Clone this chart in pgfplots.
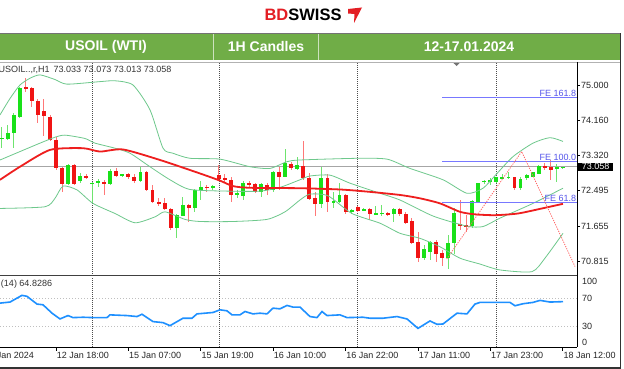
\documentclass[border=0pt]{standalone}
\usepackage{pgfplots}
\pgfplotsset{compat=1.18}
\usepackage{pgfplotstable}
\usepackage{fontspec}
\setmainfont{Liberation Sans}
\definecolor{hdrgreen}{RGB}{112,173,71}
\definecolor{bdred}{RGB}{227,30,36}
\definecolor{cgreen}{RGB}{25,225,25}
\definecolor{cred}{RGB}{240,20,20}
\definecolor{wgreen}{RGB}{110,228,110}
\definecolor{wred}{RGB}{255,120,120}
\definecolor{bbcol}{RGB}{110,200,140}
\definecolor{macol}{RGB}{238,30,30}
\definecolor{fecol}{RGB}{120,120,255}
\definecolor{fetext}{RGB}{85,85,235}
\definecolor{rsicol}{RGB}{30,144,255}
\newcommand\sm{\fontsize{9}{10.5}\selectfont}

\pgfplotstableread{
b O H L C
3 73.72 74.01 73.50 73.75
4 73.71 74.05 73.70 73.87
5 73.85 74.33 73.50 74.29
6 74.25 74.96 74.21 74.92
14 72.65 73.13 72.63 73.10
16 72.73 72.92 72.68 72.84
18 72.65 72.71 72.19 72.68
19 72.67 72.76 72.59 72.72
21 72.65 73.00 72.63 72.96
23 72.85 72.90 72.82 72.89
26 72.73 73.05 72.71 72.94
32 71.60 71.94 71.38 71.92
33 71.90 72.35 71.88 72.15
35 72.07 72.52 71.99 72.51
36 72.51 72.71 72.27 72.59
38 72.55 72.63 72.52 72.60
42 72.39 72.51 72.31 72.43
43 72.37 72.71 72.27 72.68
46 72.47 72.67 72.35 72.64
48 72.51 72.97 72.45 72.94
50 72.82 73.47 72.81 73.16
52 73.01 73.28 72.98 73.09
56 72.18 73.06 72.07 72.79
58 72.22 72.45 72.07 72.25
59 72.23 72.67 72.21 72.39
61 71.99 72.05 71.95 72.03
63 72.03 72.07 72.01 72.06
65 71.93 72.14 71.92 71.95
66 71.93 72.15 71.88 71.97
68 71.93 72.07 71.76 72.05
73 70.89 71.20 70.85 71.10
74 71.04 71.30 70.85 71.28
77 70.89 71.44 70.63 71.26
78 71.26 72.07 71.00 71.95
81 71.65 72.27 71.60 72.25
82 72.23 72.68 72.21 72.67
83 72.69 72.75 72.65 72.73
84 72.71 72.79 72.63 72.75
85 72.69 72.82 72.67 72.81
86 72.79 72.90 72.76 72.81
87 72.80 72.94 72.76 72.82
89 72.55 72.81 72.52 72.76
90 72.79 72.89 72.75 72.86
91 72.82 72.94 72.81 72.93
92 72.90 73.10 72.89 73.08
95 73.01 73.13 72.71 73.05
96 73.03 73.06 73.01 73.058
}\greentab

\pgfplotstableread{
b O H L C
7 74.96 75.16 74.84 74.90
8 74.92 74.96 74.49 74.63
9 74.63 74.68 74.09 74.29
10 74.39 74.68 73.79 74.26
11 74.25 74.29 73.66 73.69
12 73.69 73.76 72.98 73.02
13 73.02 73.06 72.47 72.65
15 73.10 73.13 72.63 72.65
17 72.84 72.89 72.76 72.79
20 72.71 72.75 72.39 72.65
22 72.96 73.02 72.81 72.84
24 72.89 72.92 72.77 72.81
25 72.82 72.89 72.68 72.73
27 72.94 72.96 72.49 72.51
28 72.52 72.63 72.19 72.23
29 72.23 72.31 72.13 72.19
30 72.21 72.31 72.03 72.05
31 72.05 72.07 71.57 71.60
34 72.15 72.18 71.76 72.07
37 72.59 72.63 72.47 72.55
39 72.86 73.10 72.75 72.76
40 72.79 72.90 72.71 72.75
41 72.75 72.82 72.23 72.39
44 72.68 72.73 72.59 72.64
45 72.64 72.67 72.43 72.47
47 72.63 72.68 72.39 72.51
49 72.93 73.05 72.51 72.81
51 73.13 73.18 72.98 73.02
53 73.09 73.66 72.75 72.79
54 72.79 72.90 72.27 72.29
55 72.31 72.47 71.88 72.17
57 72.79 72.90 71.99 72.23
60 72.39 72.41 71.95 71.99
62 72.10 72.13 71.99 72.02
64 72.05 72.07 71.80 71.94
67 71.95 71.99 71.90 71.92
69 72.05 72.09 71.88 71.94
70 71.95 71.99 71.70 71.72
71 71.78 71.84 71.23 71.26
72 71.28 71.52 70.81 70.89
75 71.28 71.32 70.81 71.00
76 71.02 71.08 70.70 70.89
79 71.70 72.27 71.56 71.66
80 71.68 71.92 71.52 71.62
88 72.81 72.82 72.51 72.55
93 73.06 73.14 72.98 73.05
94 73.05 73.22 72.75 72.98
}\redtab

\pgfplotsset{
  mtbase/.style={
    scale only axis, width=577pt,
    xmin=2.718, xmax=98.36,
    axis line style={draw=none},
    tick style={black, line width=0.6pt},
    tick align=outside,
    major tick length=3pt,
    ytick pos=right, yticklabel pos=right,
    yticklabel style={font=\sm, inner sep=1pt, text=black!85},
    clip=false,
  },
  wick/.style={draw=none, mark=none, forget plot,
    error bars/.cd, y dir=both, y explicit, error mark=none,
    error bar style={draw=#1, line width=0.9pt}},
  body/.style={draw=none, mark=none, forget plot,
    error bars/.cd, y dir=both, y explicit, error mark=none,
    error bar style={draw=#1, line width=3.9pt}},
}
\tikzset{xlab/.style={anchor=west, inner sep=0pt, font=\sm, text=black!85, yshift=-8.7pt, xshift=0.6pt}}

\begin{document}
\begin{tikzpicture}
\useasboundingbox (0pt,0pt) rectangle (624pt,369pt);
\clip (0pt,0pt) rectangle (624pt,369pt);
\fill[white] (0pt,0pt) rectangle (624pt,369pt);

\begin{scope}[x=1pt,y=1pt]
% logo
\node[font=\fontsize{16.5}{18}\selectfont\bfseries, inner sep=0pt] at (303,354) {\textcolor{bdred}{BD}SWISS};
\fill[bdred] (348,360) -- (362,361.5) -- (354,346) -- (354.5,355) -- (348,355.5) -- cycle;

% header
\fill[hdrgreen] (0,309) rectangle (620,335);
\draw[black!55, line width=1pt] (0,335.5) -- (620,335.5);
\draw[white!65!hdrgreen, line width=0.8pt] (213,309) -- (213,335);
\draw[white!65!hdrgreen, line width=0.8pt] (318,309) -- (318,335);
\node[text=white, font=\fontsize{14}{16}\selectfont\bfseries] at (106,322) {USOIL (WTI)};
\node[text=white, font=\fontsize{14}{16}\selectfont\bfseries] at (266,322) {1H Candles};
\node[text=white, font=\fontsize{14}{16}\selectfont\bfseries] at (469,322) {12-17.01.2024};
\end{scope}

% main price panel
\begin{axis}[mtbase, at={(0pt,95pt)}, anchor=south west, height=212pt,
  ymin=70.514, ymax=75.546, xtick=\empty,
  ytick={70.815,71.655,72.495,73.32,74.16,75},
  yticklabels={70.815,71.655,72.495,73.320,74.160,75.000}]
  % period separators
  \addplot[black!70, line width=0.7pt, dash pattern=on 1pt off 1pt] coordinates {(18,70.514) (18,75.546)};
  \addplot[black!70, line width=0.7pt, dash pattern=on 1pt off 1pt] coordinates {(39,70.514) (39,75.546)};
  \addplot[black!70, line width=0.7pt, dash pattern=on 1pt off 1pt] coordinates {(62,70.514) (62,75.546)};
  \addplot[black!70, line width=0.7pt, dash pattern=on 1pt off 1pt] coordinates {(85,70.514) (85,75.546)};
  % current price line
  \addplot[black!35, line width=0.8pt] coordinates {(2.718,73.058) (98.36,73.058)};
  % candles
  \addplot[wick=wgreen] table[x=b, y expr={(\thisrow{H}+\thisrow{L})/2}, y error expr={(\thisrow{H}-\thisrow{L})/2}] {\greentab};
  \addplot[wick=wred] table[x=b, y expr={(\thisrow{H}+\thisrow{L})/2}, y error expr={(\thisrow{H}-\thisrow{L})/2}] {\redtab};
  \addplot[body=cgreen] table[x=b, y expr={(\thisrow{O}+\thisrow{C})/2}, y error expr={max(abs(\thisrow{O}-\thisrow{C})/2,0.012)}] {\greentab};
  \addplot[body=cred] table[x=b, y expr={(\thisrow{O}+\thisrow{C})/2}, y error expr={max(abs(\thisrow{O}-\thisrow{C})/2,0.012)}] {\redtab};
  % Bollinger bands
  \addplot[draw=bbcol, line width=0.8pt, smooth, tension=0.4] coordinates {(2.72,74.29)(4.38,74.68)(6.03,75.00)(7.69,75.16)(9.35,75.24)(11.83,75.13)(13.82,75.02)(19.29,75.08)(21.78,75.10)(24.76,75.00)(27.58,74.41)(29.74,73.50)(31.39,73.38)(34.21,73.26)(39.18,73.24)(44.16,73.06)(47.47,73.02)(50.29,73.18)(52.44,73.22)(61.89,73.26)(66.87,73.24)(70.68,73.02)(76.15,72.75)(80.12,72.43)(82.78,72.55)(85.10,72.90)(87.75,73.30)(91.07,73.62)(93.88,73.75)(96.04,73.66)};
  \addplot[draw=bbcol, line width=0.8pt, smooth, tension=0.4] coordinates {(2.72,73.22)(6.03,73.42)(9.35,73.62)(11.83,73.76)(13.49,73.81)(16.81,73.73)(18.47,73.62)(21.78,73.50)(24.27,73.38)(27.58,73.06)(30.90,72.75)(34.21,72.52)(40.84,72.48)(45.81,72.48)(49.13,72.57)(52.44,72.75)(54.10,72.84)(57.42,72.86)(60.73,72.67)(65.70,72.43)(69.02,72.27)(74.49,71.89)(80.12,71.65)(82.78,71.64)(85.60,71.84)(91.07,72.19)(96.04,72.55)};
  \addplot[draw=bbcol, line width=0.8pt, smooth, tension=0.4] coordinates {(2.72,72.07)(10.18,72.11)(11.83,72.31)(13.16,72.60)(15.48,72.51)(18.13,72.19)(21.78,71.95)(25.10,71.73)(28.41,71.87)(30.07,71.99)(33.38,71.81)(35.87,71.76)(41.34,71.76)(46.97,71.81)(49.96,71.99)(52.44,72.27)(54.10,72.41)(57.09,72.37)(61.06,71.95)(65.70,71.72)(69.02,71.48)(72.34,71.36)(75.65,71.16)(78.96,70.89)(82.28,70.75)(85.60,70.61)(90.90,70.57)(93.05,70.89)(96.04,71.48)};
  % moving average
  \addplot[draw=macol, line width=1.8pt, smooth, tension=0.4] coordinates {(2.72,72.75)(6.03,73.06)(11.01,73.46)(16.48,73.50)(19.29,73.42)(23.11,73.47)(29.24,73.22)(35.87,72.90)(39.18,72.73)(41.34,72.60)(44.16,72.56)(52.44,72.55)(59.07,72.52)(63.55,72.47)(69.02,72.39)(72.34,72.31)(75.65,72.19)(78.96,71.99)(81.45,71.93)(84.77,71.91)(88.58,71.95)(92.56,72.07)(96.04,72.18)};
  % Fibonacci expansion
  \addplot[draw=fecol, line width=1.3pt] coordinates {(76,74.70) (98.36,74.70)};
  \addplot[draw=fecol, line width=1.3pt] coordinates {(76,73.18) (98.36,73.18)};
  \addplot[draw=fecol, line width=1.3pt] coordinates {(76,72.215) (98.36,72.215)};
  \addplot[draw=red!60, line width=0.8pt, dash pattern=on 1.2pt off 1.2pt] coordinates {(76.76,70.87) (89.19,73.42) (98.03,70.69)};
  \node[anchor=south east, inner sep=0.6pt, text=fetext, font=\sm] at (axis cs:98.36,74.70) {FE 161.8};
  \node[anchor=south east, inner sep=0.6pt, text=fetext, font=\sm] at (axis cs:98.36,73.18) {FE 100.0};
  \node[anchor=south east, inner sep=0.6pt, text=fetext, font=\sm] at (axis cs:98.36,72.215) {FE 61.8};
  % labels
  \node[anchor=west, inner sep=0pt, font=\sm, text=black!80] at (axis cs:2.47,75.35) {USOIL..,r,H1\hspace{4pt}73.033 73.073 73.013 73.058};
  \fill[black!55] (axis cs:77.9,75.52) -- (axis cs:78.9,75.52) -- (axis cs:78.4,75.45) -- cycle;
  \node[anchor=west, fill=black, text=white, font=\sm, inner xsep=3.5pt, inner ysep=1pt] at (axis cs:98.56,73.058) {73.058};
\end{axis}

% RSI panel
\begin{axis}[mtbase, at={(0pt,22pt)}, anchor=south west, height=70pt,
  ymin=0, ymax=100,
  xtick={12,24,36,48,60,72,84,96}, xticklabels={}, xtick pos=left,
  major tick length=4pt,
  ytick={6.5,30,70,93.5}, yticklabels={0,30,70,100},
  ytick style={draw=none}]
  \addplot[draw=black!25, line width=0.7pt, dash pattern=on 1pt off 2pt] coordinates {(2.718,70) (98.36,70)};
  \addplot[draw=black!25, line width=0.7pt, dash pattern=on 1pt off 2pt] coordinates {(2.718,30) (98.36,30)};
  \addplot[draw=black!70, line width=0.7pt, dash pattern=on 1pt off 1pt] coordinates {(18,0) (18,100)};
  \addplot[draw=black!70, line width=0.7pt, dash pattern=on 1pt off 1pt] coordinates {(39,0) (39,100)};
  \addplot[draw=black!70, line width=0.7pt, dash pattern=on 1pt off 1pt] coordinates {(62,0) (62,100)};
  \addplot[draw=black!70, line width=0.7pt, dash pattern=on 1pt off 1pt] coordinates {(85,0) (85,100)};
  \addplot[draw=rsicol, line width=1.6pt] coordinates {(2.72,62.7) (4.38,64.2) (6.36,73.8) (7.19,72.4) (8.85,61.3) (9.85,60.3) (11.34,48.3) (12.66,40.1) (13.99,44.9) (14.82,42.0) (16.48,42.5) (18.13,42.0) (20.45,42.0) (20.95,45.9) (23.77,44.9) (25.43,43.5) (26.26,46.8) (28.08,36.3) (29.74,34.8) (30.90,30.5) (33.05,41.1) (34.54,41.1) (35.37,47.3) (38.02,49.3) (39.18,53.1) (40.34,51.7) (41.17,45.9) (42.50,45.9) (43.33,50.7) (44.65,47.3) (45.81,48.3) (46.97,47.3) (47.97,55.5) (49.13,54.5) (50.29,59.4) (51.29,57.0) (52.44,57.0) (54.10,43.5) (55.26,42.0) (56.09,50.7) (56.92,44.9) (59.07,45.9) (60.24,42.0) (62.89,42.5) (64.05,41.1) (66.20,41.1) (68.52,43.5) (70.18,40.1) (72.00,26.6) (73.99,37.2) (75.15,32.4) (76.15,32.9) (78.47,48.3) (80.12,47.3) (81.45,61.3) (82.28,63.7) (87.25,63.7) (88.08,58.9) (89.41,61.8) (91.07,63.7) (92.23,66.6) (93.88,64.2) (96.04,64.8)};
  \node[anchor=west, inner sep=0pt, font=\sm, text=black!80] at (axis cs:2.85,90) {(14) 64.8286};
  \node[xlab] at (axis cs:0,0) {12 Jan 2024};
  \node[xlab] at (axis cs:12,0) {12 Jan 18:00};
  \node[xlab] at (axis cs:24,0) {15 Jan 07:00};
  \node[xlab] at (axis cs:36,0) {15 Jan 19:00};
  \node[xlab] at (axis cs:48,0) {16 Jan 10:00};
  \node[xlab] at (axis cs:60,0) {16 Jan 22:00};
  \node[xlab] at (axis cs:72,0) {17 Jan 11:00};
  \node[xlab] at (axis cs:84,0) {17 Jan 23:00};
  \node[xlab] at (axis cs:96,0) {18 Jan 12:00};
\end{axis}

% frames
\begin{scope}[x=1pt,y=1pt]
\draw[black!30, line width=0.8pt] (0,307) -- (620,307);
\draw[black!75, line width=1.6pt] (0,93.5) -- (577,93.5);
\draw[black, line width=0.9pt] (577,307) -- (577,22);
\draw[black, line width=0.9pt] (0,22) -- (577.4,22);
\draw[black!80, line width=1.2pt] (620.5,335.5) -- (620.5,0);
\draw[black!80, line width=1.2pt] (0,1) -- (620.5,1);
\end{scope}
\end{tikzpicture}
\end{document}
